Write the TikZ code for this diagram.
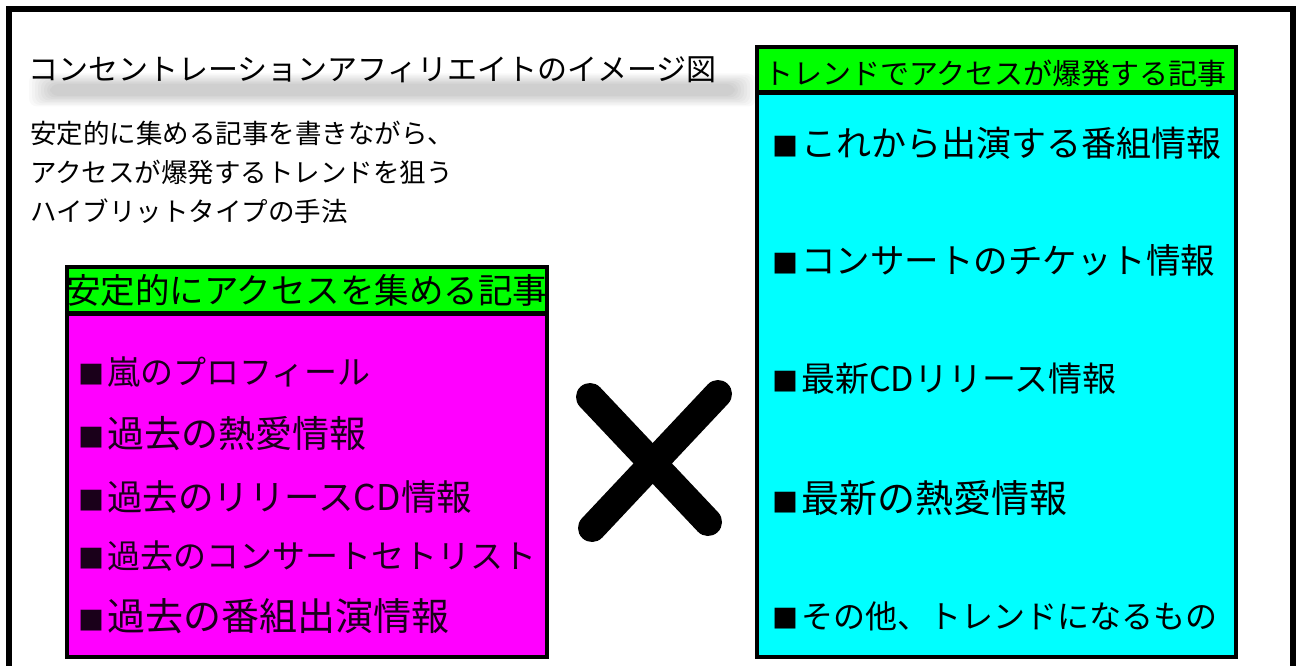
\documentclass[tikz,border=0pt]{standalone}
\usepackage{fontspec}
\newfontfamily\jp{Noto Sans CJK JP}
\definecolor{hdrgreen}{HTML}{00FF00}
\definecolor{boxmag}{HTML}{FF00FF}
\definecolor{boxcyan}{HTML}{00FFFF}
\definecolor{itemink}{HTML}{1A001A}
\newcommand{\bul}{{\fontsize{26}{26}\selectfont ■}\hspace{3pt}}
\tikzset{
  boxline/.style={draw=black, line width=3.5pt},
  txt/.style={anchor=west, inner sep=0pt, text=black},
  itemtxt/.style={anchor=west, inner sep=0pt},
}
\begin{document}
\begin{tikzpicture}[x=1pt, y=-1pt]
\useasboundingbox (0,0) rectangle (1300,666);
\fill[white] (0,0) rectangle (1300,666);
% outer frame (open at the bottom edge)
\draw[line width=6pt] (9,666) -- (9,9) -- (1293,9) -- (1293,666);

% soft shadow under the title
\foreach \i in {0,...,7}{
  \fill[black, opacity=0.022, rounded corners=8pt]
    ({50-\i*3},{84-\i*1.5}) rectangle ({735+\i*3},{96+\i*1.5});
}
\node[txt, font=\jp\fontsize{30}{36}\selectfont] (title) at (28,70) {コンセントレーションアフィリエイトのイメージ図};

% description
\node[txt, font=\jp\fontsize{26.5}{30}\selectfont] (d1) at (30,133) {安定的に集める記事を書きながら、};
\node[txt, font=\jp\fontsize{26.5}{30}\selectfont] (d2) at (30,172) {アクセスが爆発するトレンドを狙う};
\node[txt, font=\jp\fontsize{26.5}{30}\selectfont] (d3) at (30,211) {ハイブリットタイプの手法};

% left box
\fill[boxmag] (67,313) rectangle (547,657);
\fill[hdrgreen] (67,267) rectangle (547,313);
\draw[boxline] (67,267) rectangle (547,657);
\draw[line width=5pt] (67,313) -- (547,313);
\node[txt, font=\jp\fontsize{34.5}{38}\selectfont] (lh) at (66,290) {安定的にアクセスを集める記事};
\node[itemtxt, font=\jp\fontsize{33}{38}\selectfont, text=itemink] (l1) at (78,372) {\bul 嵐のプロフィール};
\node[itemtxt, font=\jp\fontsize{37}{40}\selectfont, text=itemink] (l2) at (78,434) {\bul 過去の熱愛情報};
\node[itemtxt, font=\jp\fontsize{35.5}{40}\selectfont, text=itemink] (l3) at (78,497) {\bul 過去のリリースCD情報};
\node[itemtxt, font=\jp\fontsize{33}{36}\selectfont, text=itemink] (l4) at (78,556) {\bul 過去のコンサートセトリスト};
\node[itemtxt, font=\jp\fontsize{38}{40}\selectfont, text=itemink] (l5) at (78,616) {\bul 過去の番組出演情報};

% right box
\fill[boxcyan] (757,93) rectangle (1236,657);
\fill[hdrgreen] (757,47) rectangle (1236,93);
\draw[boxline] (757,47) rectangle (1236,657);
\draw[line width=5pt] (757,93) -- (1236,93);
\node[txt, font=\jp\fontsize{29}{33}\selectfont] (rh) at (764,73) {トレンドでアクセスが爆発する記事};
\node[itemtxt, font=\jp\fontsize{35}{40}\selectfont] (r1) at (772,143) {\bul これから出演する番組情報};
\node[itemtxt, font=\jp\fontsize{34.5}{40}\selectfont] (r2) at (772,260) {\bul コンサートのチケット情報};
\node[itemtxt, font=\jp\fontsize{34}{40}\selectfont] (r3) at (772,379) {\bul 最新CDリリース情報};
\node[itemtxt, font=\jp\fontsize{38}{40}\selectfont] (r4) at (772,498) {\bul 最新の熱愛情報};
\node[itemtxt, font=\jp\fontsize{32}{36}\selectfont] (r5) at (772,616) {\bul その他、トレンドになるもの};

% big cross
\draw[line width=28pt, line cap=round] (590,397) -- (708,522);
\draw[line width=28pt, line cap=round] (718,394) -- (592,528);
\end{tikzpicture}
\end{document}
